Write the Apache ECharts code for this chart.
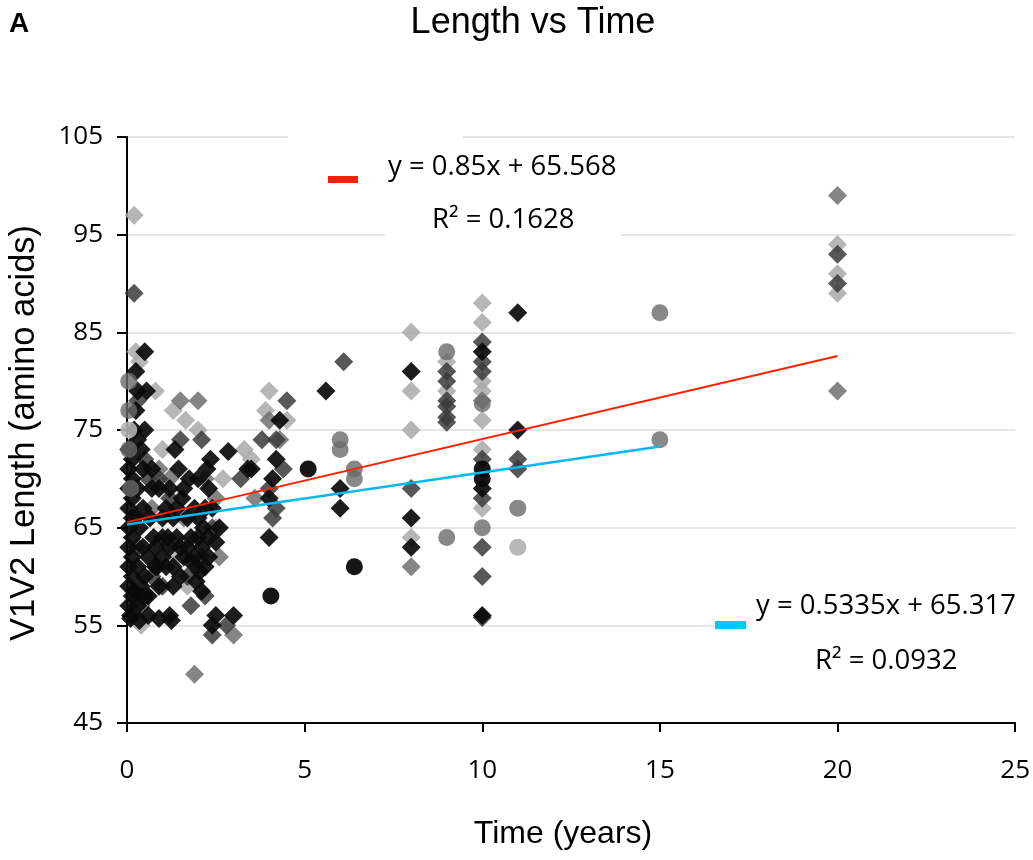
<!DOCTYPE html>
<html>
<head>
<meta charset="utf-8">
<script src="https://cdn.jsdelivr.net/npm/echarts@6/dist/echarts.min.js"></script>
<style>
html,body{margin:0;padding:0;background:#fff;}
#main{width:1033px;height:860px;}
</style>
</head>
<body>
<div id="main"></div>
<script>
// ---------- data ----------
const xTicks = [0, 5, 10, 15, 20, 25];
const yTicks = [45, 55, 65, 75, 85, 95, 105];

const blackDiamonds = [
  [0.1,56],[0.05,57],[0.15,58],[0.05,59],[0.15,60],[0.05,61],[0.15,62],[0.05,63],[0.15,64],[0.05,65],
  [0.15,66],[0.05,67],[0.15,68],[0.05,69],[0.15,70],[0.05,71],[0.15,72],[0.05,73],[0.3,74],[0.2,75],
  [0.25,77],[0.3,79],[0.25,81],[0.5,83],[0.55,79],[0.5,75],
  [0.3,57],[0.4,59],[0.3,61],[0.45,63],[0.35,65],[0.45,67],[0.3,69],[0.45,71],[0.4,73],
  [0.6,58],[0.6,62],[0.65,66],[0.7,69],[0.75,64],[0.8,61],[0.9,59],
  [1.0,64],[1.15,64],[1.4,64],[1.3,66],[1.1,67],[0.9,69],[1.2,69],[1.35,73],[1.45,71],[1.55,68],
  [1.7,66],[1.8,64],[1.9,62],[1.95,59.5],[2.05,60.5],[2.1,63],[2.15,65],[2.2,67],[2.3,69],[2.25,71],
  [2.35,72],[2.0,70],[1.6,62],[1.3,61],[1.1,61],[0.85,61],[1.2,56],[1.25,55.5],[0.9,55.7],[0.1,55.7],
  [2.5,56],[3.0,56],[2.4,55],[2.5,63.5],[2.6,65],[1.9,67],[1.75,70],
  [1.0,62],[1.2,63],[1.5,63],[1.7,63],[2.0,64],[2.3,64],[1.4,67],[1.6,69],[2.0,66],[2.4,67],
  [1.3,59],[1.5,60],[2.2,61],[1.8,61.5],[1.0,66],[0.8,63],[0.6,56],[0.5,60],[0.7,71],[0.2,58.5],
  [0.35,55.5],[2.1,58.5],[2.3,62],
  [2.85,72.8],[3.4,71],[3.5,71],
  [4.0,64],[4.0,68],[4.2,72],[4.3,76],[4.1,70],
  [5.6,79],[6.0,69],[6.0,67],
  [8,81],[8,66],[8,63],[10,83],[10,69],[10,56],[11,87],[11,75]
];
const darkDiamonds = [
  [0.2,89],[0.3,78],[0.5,72],[0.9,70],[1.2,68],[1.5,74],[1.7,60],[1.8,57],[1.95,61],[2.1,62],
  [2.4,54],[2.8,55],[0.6,70],[1.0,59],[2.2,58],[2.4,65],[2.1,74],[3.2,70],[3.8,74],[4.0,69],
  [4.2,74],[4.4,71],[4.5,78],[4.2,67],[6.1,82],[8,69],
  [9,81],[9,80],[9,78],[9,77.4],[9,76.3],[9,75.8],
  [10,84],[10,82],[10,81],[10,72],[10,68],[10,63],[10,60],[10,55.8],
  [11,72],[11,71],[20,93],[20,90],[4.1,66],[0.3,63],[0.7,60]
];
const grayDiamonds = [
  [1.9,50],[2.0,78],[1.5,78],[1.2,70],[0.7,67],[2.6,62],[3.0,54],[0.4,57],[1.6,66],[2.5,68],
  [4.0,76],[4.3,74],[8,61],[10,78],[20,99],[20,79],[2.2,70],[0.9,71],[3.6,68]
];
const lightDiamonds = [
  [0.2,97],[0.25,83],[0.35,82],[0.4,55],[0.25,58],[1.3,77],[1.65,76],[2.0,75],[1.0,73],[1.4,62],
  [1.7,59],[2.5,65],[3.3,73],[3.5,72],[4.0,79],[4.5,76],[3.9,77],
  [8,85],[8,79],[8,75],[8,64],[9,82],[9,79],
  [10,88],[10,86],[10,80],[10,79],[10,76],[10,73],[10,67],
  [20,94],[20,91],[20,89],[0.8,79],[2.7,70],[1.1,63]
];
const blackCircles = [[5.1,71],[6.4,61],[4.05,58],[10,71],[10,70],[0.5,58],[0.2,66]];
const grayCircles = [
  [0.05,80],[0.05,77],[0.05,73],[0.1,69],[6.0,74],[6.0,73],[6.4,71],[6.4,70],
  [9,83],[9,64],[10,77.7],[10,65],[15,87],[15,74],[11,67]
];
const lightCircles = [[11,63],[0.05,75]];

const redTrend = [[0, 65.57], [20, 82.57]];
const blueTrend = [[0, 65.32], [15, 73.32]];

const titleText = 'Length vs Time';
const panelLetter = 'A';
const xName = 'Time (years)';
const yName = 'V1V2 Length (amino acids)';
const redEq = ['y = 0.85x + 65.568', 'R\u00B2 = 0.1628'];
const blueEq = ['y = 0.5335x + 65.317', 'R\u00B2 = 0.0932'];

// ---------- chart ----------
const chart = echarts.init(document.getElementById('main'));
const tickFont = '"Open Sans", "Liberation Sans", sans-serif';
const arial = '"Liberation Sans", Arial, sans-serif';

function scatter(name, data, symbol, color, opacity, size) {
  return {
    name, type: 'scatter', data, symbol, symbolSize: size,
    itemStyle: { color, opacity },
    z: 2, silent: true
  };
}

const option = {
  animation: false,
  backgroundColor: '#fff',
  grid: { left: 127, right: 16, top: 137, bottom: 137, containLabel: false },
  xAxis: {
    type: 'value', min: xTicks[0], max: xTicks[xTicks.length - 1], interval: 5,
    axisLine: { show: true, onZero: false, lineStyle: { color: '#000', width: 2 } },
    axisTick: { show: true, length: 9, lineStyle: { color: '#000', width: 2 } },
    axisLabel: { fontSize: 26, color: '#000', margin: 35, fontFamily: tickFont },
    splitLine: { show: false }
  },
  yAxis: {
    type: 'value', min: yTicks[0], max: yTicks[yTicks.length - 1], interval: 10,
    axisLine: { show: true, onZero: false, lineStyle: { color: '#000', width: 2 } },
    axisTick: { show: true, length: 10, lineStyle: { color: '#000', width: 2 } },
    axisLabel: { fontSize: 26, color: '#000', margin: 24, fontFamily: tickFont },
    splitLine: { show: true, lineStyle: { color: '#e6e6e6', width: 2 } }
  },
  series: [
    scatter('light', lightDiamonds, 'diamond', '#a9a9a9', 0.85, 19),
    scatter('gray', grayDiamonds, 'diamond', '#707070', 0.85, 19),
    scatter('dark', darkDiamonds, 'diamond', '#3a3a3a', 0.85, 19),
    scatter('black', blackDiamonds, 'diamond', '#0a0a0a', 0.92, 19),
    scatter('lightC', lightCircles, 'circle', '#b0b0b0', 0.9, 17),
    scatter('grayC', grayCircles, 'circle', '#6a6a6a', 0.8, 17),
    scatter('blackC', blackCircles, 'circle', '#0a0a0a', 0.95, 17),
    {
      type: 'line', data: redTrend, showSymbol: false, symbol: 'none', z: 5, silent: true,
      lineStyle: { color: '#ff2000', width: 2 }
    },
    {
      type: 'line', data: blueTrend, showSymbol: false, symbol: 'none', z: 5, silent: true,
      lineStyle: { color: '#00b8f0', width: 2.5 }
    }
  ],
  graphic: [
    { type: 'rect', shape: { x: 288, y: 128, width: 175, height: 70 }, style: { fill: '#fff' }, z: 10 },
    { type: 'rect', shape: { x: 385, y: 142, width: 236, height: 104 }, style: { fill: '#fff' }, z: 10 },
    { type: 'rect', shape: { x: 748, y: 585, width: 272, height: 105 }, style: { fill: '#fff' }, z: 10 },
    { type: 'rect', shape: { x: 328, y: 176, width: 30, height: 7 }, style: { fill: '#ff2000' }, z: 11 },
    { type: 'rect', shape: { x: 715, y: 621, width: 31, height: 8 }, style: { fill: '#00c8f8' }, z: 11 },
    { type: 'text', x: 388, y: 167, z: 12, style: { text: redEq[0], font: '27.5px ' + tickFont, fill: '#000', textVerticalAlign: 'middle' } },
    { type: 'text', x: 432, y: 220, z: 12, style: { text: redEq[1], font: '27.5px ' + tickFont, fill: '#000', textVerticalAlign: 'middle' } },
    { type: 'text', x: 756, y: 606, z: 12, style: { text: blueEq[0], font: '27.5px ' + tickFont, fill: '#000', textVerticalAlign: 'middle' } },
    { type: 'text', x: 815, y: 661, z: 12, style: { text: blueEq[1], font: '27.5px ' + tickFont, fill: '#000', textVerticalAlign: 'middle' } },
    { type: 'text', x: 533, y: 23, z: 12, style: { text: titleText, font: '36px ' + arial, fill: '#000', textAlign: 'center', textVerticalAlign: 'middle' } },
    { type: 'text', x: 9, y: 24, z: 12, style: { text: panelLetter, font: 'bold 28px ' + arial, fill: '#000', textVerticalAlign: 'middle' } },
    { type: 'text', x: 563, y: 834, z: 12, style: { text: xName, font: '32px ' + arial, fill: '#000', textAlign: 'center', textVerticalAlign: 'middle' } },
    { type: 'text', x: 24, y: 433, rotation: Math.PI / 2, z: 12, style: { text: yName, font: '34.5px ' + arial, fill: '#000', textAlign: 'center', textVerticalAlign: 'middle' } }
  ]
};
chart.setOption(option);
</script>
</body>
</html>
